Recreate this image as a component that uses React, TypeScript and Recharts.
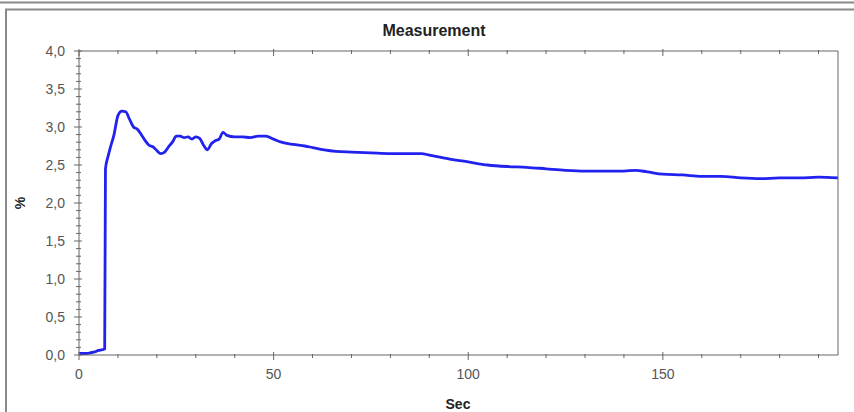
import { LineChart, Line, XAxis, YAxis } from "recharts";

// time in seconds
const secs = [
  0, 1, 2, 3, 4, 5, 6, 6.6, 6.8, 7.5, 8, 9, 10, 11, 12, 13, 14, 15, 16, 17, 18, 19, 20, 21, 22, 23, 24, 25,
  26, 27, 28, 29, 30, 31, 32, 33, 34, 35, 36, 37, 38, 40, 42, 44, 46, 48, 50, 52, 55, 58, 60, 63, 66, 70,
  75, 80, 85, 88, 90, 95, 100, 105, 110, 115, 120, 125, 130, 135, 140, 143, 146, 150, 155, 160, 165, 170,
  175, 180, 185, 190, 195,
];

// measured value in %
const percent = [
  0.02, 0.02, 0.02, 0.03, 0.04, 0.06, 0.07, 0.08, 2.45, 2.62, 2.72, 2.9, 3.15, 3.21, 3.2, 3.1, 3.0, 2.97,
  2.9, 2.82, 2.76, 2.74, 2.69, 2.65, 2.67, 2.74, 2.8, 2.88, 2.88, 2.86, 2.87, 2.84, 2.87, 2.85, 2.76, 2.7,
  2.78, 2.82, 2.84, 2.93, 2.89, 2.87, 2.87, 2.86, 2.88, 2.88, 2.84, 2.8, 2.77, 2.75, 2.73, 2.7, 2.68, 2.67,
  2.66, 2.65, 2.65, 2.65, 2.63, 2.58, 2.54, 2.5, 2.48, 2.47, 2.45, 2.43, 2.42, 2.42, 2.42, 2.43, 2.41,
  2.38, 2.37, 2.35, 2.35, 2.33, 2.32, 2.33, 2.33, 2.34, 2.33,
];

const xMajorTicks = [0, 50, 100, 150];
const xMinorTicks = [10, 20, 30, 40, 60, 70, 80, 90, 110, 120, 130, 140, 160, 170, 180, 190];
const yMajorTicks = [0, 0.5, 1, 1.5, 2, 2.5, 3, 3.5, 4];

const yMinorTicks: number[] = [];
for (let i = 1; i < 40; i++) {
  if (i % 5 !== 0) yMinorTicks.push(i / 10);
}

const data = secs.map((s, i) => ({ sec: s, value: percent[i] }));

const AXIS = "#666";
const FONT = "'Liberation Sans', Arial, sans-serif";

function isMajor(v: number, majors: number[]) {
  return majors.some((m) => Math.abs(m - v) < 1e-6);
}

function BottomTick(props: any) {
  const { x, y, payload } = props;
  const major = isMajor(payload.value, xMajorTicks);
  return (
    <g>
      <line x1={x} x2={x} y1={major ? y - 3 : y - 1} y2={major ? y + 5 : y + 3} stroke={AXIS} />
      {major && (
        <text x={x} y={y + 24} textAnchor="middle" fontSize={14} fill="#555" fontFamily={FONT}>
          {payload.value}
        </text>
      )}
    </g>
  );
}

function TopTick(props: any) {
  const { x, y, payload } = props;
  const major = isMajor(payload.value, xMajorTicks);
  return <line x1={x} x2={x} y1={major ? y - 2 : y - 1} y2={major ? y + 5 : y + 3} stroke={AXIS} />;
}

function LeftTick(props: any) {
  const { x, y, payload } = props;
  const major = isMajor(payload.value, yMajorTicks);
  return (
    <g>
      <line x1={major ? x - 5 : x - 3} x2={major ? x + 3 : x + 2} y1={y} y2={y} stroke={AXIS} />
      {major && (
        <text x={x - 14} y={y + 5} textAnchor="end" fontSize={14} fill="#555" fontFamily={FONT}>
          {payload.value.toFixed(1).replace(".", ",")}
        </text>
      )}
    </g>
  );
}

function RightTick(props: any) {
  const { x, y, payload } = props;
  const major = isMajor(payload.value, yMajorTicks);
  return <line x1={major ? x - 5 : x - 3} x2={x + 1} y1={y} y2={y} stroke={AXIS} />;
}

export default function App() {
  const allX = [...xMajorTicks, ...xMinorTicks].sort((a, b) => a - b);
  const allY = [...yMajorTicks, ...yMinorTicks].sort((a, b) => a - b);
  return (
    <div style={{ position: "absolute", left: 0, top: 0, width: 854, height: 412, background: "#fff" }}>
      <LineChart width={854} height={412} data={data} margin={{ top: 50, right: 15, bottom: 27, left: 29 }}>
        <XAxis
          dataKey="sec"
          type="number"
          domain={[0, 195]}
          ticks={allX}
          interval={0}
          height={30}
          tickSize={0}
          tickMargin={0}
          stroke={AXIS}
          tick={<BottomTick />}
        />
        <XAxis
          xAxisId="top"
          orientation="top"
          dataKey="sec"
          type="number"
          domain={[0, 195]}
          ticks={allX}
          interval={0}
          height={1}
          tickSize={0}
          tickMargin={0}
          stroke={AXIS}
          tick={<TopTick />}
        />
        <YAxis
          type="number"
          domain={[0, 4]}
          ticks={allY}
          interval={0}
          width={50}
          tickSize={0}
          tickMargin={0}
          stroke={AXIS}
          tick={<LeftTick />}
        />
        <YAxis
          yAxisId="right"
          orientation="right"
          type="number"
          domain={[0, 4]}
          ticks={allY}
          interval={0}
          width={1}
          tickSize={0}
          tickMargin={0}
          stroke={AXIS}
          tick={<RightTick />}
        />
        <Line
          type="monotone"
          dataKey="value"
          stroke="#2222ee"
          strokeWidth={2.8}
          strokeLinejoin="round"
          dot={false}
          isAnimationActive={false}
        />
      </LineChart>
      <svg
        width={854}
        height={412}
        style={{ position: "absolute", left: 0, top: 0, pointerEvents: "none" }}
      >
        <line x1={0} x2={854} y1={2.5} y2={2.5} stroke="#8a8a8a" strokeWidth={2} />
        <line x1={5} x2={854} y1={9.5} y2={9.5} stroke="#8a8a8a" strokeWidth={2} />
        <line x1={6} x2={6} y1={9} y2={412} stroke="#8a8a8a" strokeWidth={2} />
        <text x={434} y={36} textAnchor="middle" fontSize={16} fontWeight="bold" fill="#222" fontFamily={FONT}>
          Measurement
        </text>
        <text x={458} y={409} textAnchor="middle" fontSize={14} fontWeight="bold" fill="#222" fontFamily={FONT}>
          Sec
        </text>
        <text
          x={20}
          y={203}
          textAnchor="middle"
          dominantBaseline="central"
          fontSize={14}
          fontWeight="bold"
          fill="#222"
          fontFamily={FONT}
          transform="rotate(-90 20 203)"
        >
          %
        </text>
      </svg>
    </div>
  );
}
